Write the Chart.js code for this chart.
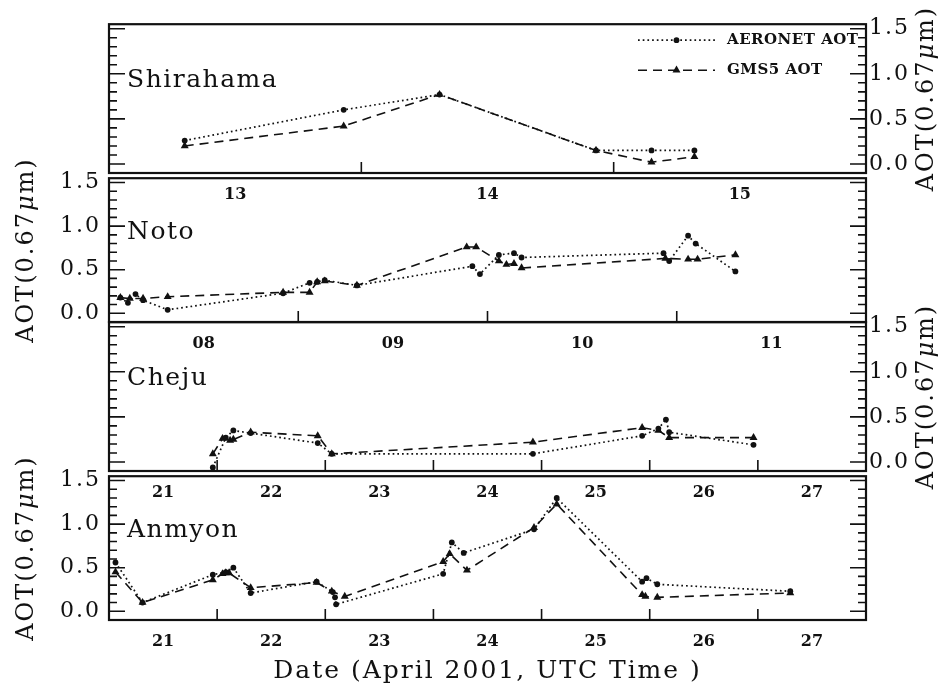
<!DOCTYPE html>
<html>
<head>
<meta charset="utf-8">
<script src="https://cdn.jsdelivr.net/npm/chart.js@4"></script>
<style>
  html, body { margin: 0; padding: 0; background: #fff; }
  #wrap { position: relative; width: 951px; height: 698px; overflow: hidden; }
  #wrap canvas { position: absolute; left: 0; }
</style>
</head>
<body>
<div id="wrap">
  <canvas id="shirahama" width="951" height="209" style="top:8px"></canvas>
  <canvas id="noto" width="951" height="209" style="top:157px"></canvas>
  <canvas id="cheju" width="951" height="209" style="top:306px"></canvas>
  <canvas id="anmyon" width="951" height="235" style="top:455px"></canvas>
</div>
<script>
// names and axis labels
const seriesNames = ['AERONET AOT', 'GMS5 AOT'];
const yTitle = 'AOT(0.67μm)';
const xTitle = 'Date (April 2001, UTC Time )';
const yTicks = [0.0, 0.5, 1.0, 1.5];

// Shirahama, 13-15 April (time = day of month + fraction, UTC)
const shirahamaDays = ['13', '14', '15'];
const shirahamaAeronetTime = [13.30, 13.93, 14.31, 14.93, 15.15, 15.32];
const shirahamaAeronetAot  = [0.26, 0.60, 0.77, 0.15, 0.15, 0.15];
const shirahamaGmsTime = [13.30, 13.93, 14.31, 14.93, 15.15, 15.32];
const shirahamaGmsAot  = [0.20, 0.42, 0.77, 0.15, 0.02, 0.08];

// Noto, 08-11 April
const notoDays = ['08', '09', '10', '11'];
const notoAeronetTime = [8.06, 8.10, 8.14, 8.18, 8.31, 8.92, 9.06, 9.10, 9.14, 9.31,
                         9.92, 9.96, 10.06, 10.14, 10.18, 10.93, 10.96, 11.06, 11.10, 11.31];
const notoAeronetAot  = [0.18, 0.12, 0.22, 0.15, 0.04, 0.23, 0.35, 0.36, 0.38, 0.32,
                         0.54, 0.45, 0.67, 0.69, 0.64, 0.69, 0.60, 0.89, 0.80, 0.48];
const notoGmsTime = [8.06, 8.11, 8.18, 8.31, 8.92, 9.06, 9.10, 9.14, 9.31, 9.89,
                     9.94, 10.06, 10.10, 10.14, 10.18, 10.94, 11.06, 11.11, 11.31];
const notoGmsAot  = [0.18, 0.17, 0.17, 0.19, 0.24, 0.24, 0.36, 0.37, 0.32, 0.76,
                     0.76, 0.60, 0.56, 0.57, 0.52, 0.63, 0.62, 0.62, 0.67];

// Cheju, 21-27 April
const chejuDays = ['21', '22', '23', '24', '25', '26', '27'];
const chejuAeronetTime = [21.96, 22.08, 22.15, 22.31, 22.93, 23.06, 24.92, 25.93, 26.08, 26.15, 26.18, 26.96];
const chejuAeronetAot  = [-0.06, 0.27, 0.35, 0.32, 0.21, 0.09, 0.09, 0.29, 0.37, 0.47, 0.33, 0.19];
const chejuGmsTime = [21.96, 22.05, 22.12, 22.15, 22.31, 22.93, 23.06, 24.92, 25.93, 26.08, 26.18, 26.96];
const chejuGmsAot  = [0.09, 0.26, 0.24, 0.25, 0.33, 0.29, 0.09, 0.22, 0.38, 0.35, 0.27, 0.27];

// Anmyon, 21-27 April
const anmyonDays = ['21', '22', '23', '24', '25', '26', '27'];
const anmyonAeronetTime = [21.06, 21.31, 21.96, 22.08, 22.15, 22.31, 22.92, 23.07, 23.09, 23.10,
                           24.09, 24.17, 24.28, 24.93, 25.14, 25.93, 25.97, 26.07, 27.30];
const anmyonAeronetAot  = [0.56, 0.10, 0.42, 0.45, 0.50, 0.21, 0.34, 0.22, 0.16, 0.08,
                           0.43, 0.79, 0.67, 0.94, 1.30, 0.34, 0.38, 0.31, 0.23];
const anmyonGmsTime = [21.06, 21.31, 21.96, 22.05, 22.08, 22.11, 22.31, 22.92, 23.06, 23.18,
                       24.09, 24.15, 24.31, 24.93, 25.14, 25.93, 25.96, 26.07, 27.30];
const anmyonGmsAot  = [0.45, 0.10, 0.36, 0.43, 0.44, 0.44, 0.27, 0.33, 0.23, 0.17,
                       0.57, 0.66, 0.47, 0.96, 1.23, 0.19, 0.17, 0.16, 0.21];

const ink = '#111';
Chart.defaults.font.family = '"DejaVu Serif", serif';
Chart.defaults.color = ink;

function seriesPoints(times, values) {
  return times.map((t, i) => ({ x: t, y: values[i] }));
}

function aeronetDataset(times, values) {
  return {
    label: seriesNames[0],
    data: seriesPoints(times, values),
    borderColor: ink, backgroundColor: ink,
    borderWidth: 1.7, borderDash: [1.7, 3],
    pointStyle: 'circle', pointRadius: 2.9, pointBorderWidth: 0,
    pointBackgroundColor: ink, tension: 0, fill: false
  };
}

function gmsDataset(times, values) {
  return {
    label: seriesNames[1],
    data: seriesPoints(times, values),
    borderColor: ink, backgroundColor: ink,
    borderWidth: 1.6, borderDash: [9, 6],
    pointStyle: 'triangle', pointRadius: 4.6, pointBorderWidth: 0,
    pointBackgroundColor: ink, tension: 0, fill: false
  };
}

// rotated y title, bottom to top, with italic mu
function drawAotTitle(ctx, cx, cy) {
  const [pre, post] = yTitle.split('μ');
  const normal = '24px "DejaVu Serif"';
  const italic = 'italic 24px "DejaVu Serif"';
  ctx.save();
  ctx.translate(cx, cy);
  ctx.rotate(-Math.PI / 2);
  ctx.fillStyle = ink;
  ctx.textAlign = 'left';
  ctx.textBaseline = 'middle';
  ctx.letterSpacing = '2px';
  ctx.font = normal;
  const w1 = ctx.measureText(pre).width;
  const w3 = ctx.measureText(post).width;
  ctx.font = italic;
  const w2 = ctx.measureText('μ').width;
  let px = -(w1 + w2 + w3) / 2;
  ctx.font = normal; ctx.fillText(pre, px, 0); px += w1;
  ctx.font = italic; ctx.fillText('μ', px, 0); px += w2;
  ctx.font = normal; ctx.fillText(post, px, 0);
  ctx.restore();
}

function drawLegend(chart) {
  const { ctx, chartArea: a } = chart;
  chart.data.datasets.forEach((ds, i) => {
    const ly = a.top + 16 + i * 30;
    const x0 = a.right - 228, x1 = a.right - 151;
    ctx.save();
    ctx.strokeStyle = ink;
    ctx.lineWidth = ds.borderWidth;
    ctx.setLineDash(ds.borderDash);
    ctx.beginPath();
    ctx.moveTo(x0, ly);
    ctx.lineTo(x1, ly);
    ctx.stroke();
    ctx.setLineDash([]);
    ctx.fillStyle = ink;
    if (Chart.helpers && Chart.helpers.drawPoint) {
      Chart.helpers.drawPoint(ctx, { pointStyle: ds.pointStyle, radius: ds.pointRadius, rotation: 0, borderWidth: 0 }, (x0 + x1) / 2, ly);
    } else {
      ctx.beginPath();
      ctx.arc((x0 + x1) / 2, ly, ds.pointRadius, 0, Math.PI * 2);
      ctx.fill();
    }
    ctx.font = 'bold 15px "DejaVu Serif"';
    ctx.letterSpacing = '0.5px';
    ctx.textAlign = 'left';
    ctx.textBaseline = 'middle';
    ctx.fillText(ds.label, a.right - 139, ly);
    ctx.restore();
  });
}

// frame, inward tick marks, station name, y title, legend
const panelPlugin = {
  id: 'panel',
  beforeDraw(chart) { chart.ctx.letterSpacing = '2px'; },
  beforeDatasetsDraw(chart) { chart.ctx.letterSpacing = '0px'; },
  afterDatasetsDraw(chart, args, opts) {
    const { ctx, chartArea: a } = chart;
    const x = chart.scales.x, y = chart.scales.y;
    ctx.save();
    ctx.strokeStyle = ink;
    ctx.lineWidth = 2.2;
    ctx.strokeRect(a.left, a.top, a.right - a.left, a.bottom - a.top);
    ctx.lineWidth = 1.6;
    ctx.beginPath();
    for (let i = 0; i <= 15; i++) {
      const py = y.getPixelForValue(i / 10);
      const len = i % 5 === 0 ? 16 : 8;
      ctx.moveTo(a.left, py); ctx.lineTo(a.left + len, py);
      ctx.moveTo(a.right, py); ctx.lineTo(a.right - len, py);
    }
    for (let d = x.min + 1; d < x.max; d++) {
      const px = x.getPixelForValue(d);
      ctx.moveTo(px, a.bottom); ctx.lineTo(px, a.bottom - 11);
    }
    ctx.stroke();

    ctx.fillStyle = ink;
    ctx.font = '25px "DejaVu Serif"';
    ctx.letterSpacing = '1.5px';
    ctx.textAlign = 'left';
    ctx.textBaseline = 'alphabetic';
    ctx.fillText(opts.station, a.left + 18, y.getPixelForValue(0.85));
    ctx.restore();

    drawAotTitle(ctx, opts.labelSide === 'left' ? 27 : 927, (a.top + a.bottom) / 2);
    if (opts.legend) drawLegend(chart);
  }
};

function makePanel(id, opt) {
  const first = Number(opt.days[0]);
  const labelsLeft = opt.labelSide === 'left';
  const xHeight = opt.showXTitle ? 66 : 40;
  const yCommon = {
    min: -0.1, max: 1.55, bounds: 'data',
    grid: { display: false, drawTicks: false },
    border: { display: false },
    afterBuildTicks: s => { s.ticks = yTicks.map(v => ({ value: v })); }
  };
  return new Chart(document.getElementById(id), {
    type: 'line',
    data: { datasets: [aeronetDataset(...opt.aeronet), gmsDataset(...opt.gms)] },
    options: {
      responsive: false, animation: false, devicePixelRatio: 1,
      layout: { padding: { top: 16, bottom: 4, left: 0, right: 0 } },
      plugins: {
        legend: { display: false },
        tooltip: { enabled: false },
        panel: { station: opt.station, labelSide: opt.labelSide, legend: opt.legend }
      },
      scales: {
        x: {
          type: 'linear', position: 'bottom', bounds: 'data',
          min: first, max: first + opt.days.length,
          grid: { display: false, drawTicks: false },
          border: { display: false },
          afterBuildTicks: s => { s.ticks = opt.days.map((d, i) => ({ value: first + i + 0.5 })); },
          afterFit: s => { s.height = xHeight; },
          ticks: {
            autoSkip: false, maxRotation: 0, minRotation: 0, padding: 12, z: 1,
            font: { size: 16, weight: 'bold' },
            callback: (v, i) => opt.days[i]
          },
          title: { display: !!opt.showXTitle, text: xTitle, font: { size: 25 }, padding: 0 }
        },
        y: Object.assign({}, yCommon, {
          position: 'left',
          afterFit: s => { s.width = 109; },
          ticks: { display: labelsLeft, padding: 8, z: -1, font: { size: 22 }, callback: v => v.toFixed(1) }
        }),
        y2: Object.assign({}, yCommon, {
          position: 'right',
          afterFit: s => { s.width = 85; },
          ticks: { display: !labelsLeft, padding: 3, z: -1, font: { size: 22 }, callback: v => v.toFixed(1) }
        })
      }
    },
    plugins: [panelPlugin]
  });
}

makePanel('shirahama', {
  station: 'Shirahama', days: shirahamaDays, labelSide: 'right', legend: true,
  aeronet: [shirahamaAeronetTime, shirahamaAeronetAot], gms: [shirahamaGmsTime, shirahamaGmsAot]
});
makePanel('noto', {
  station: 'Noto', days: notoDays, labelSide: 'left',
  aeronet: [notoAeronetTime, notoAeronetAot], gms: [notoGmsTime, notoGmsAot]
});
makePanel('cheju', {
  station: 'Cheju', days: chejuDays, labelSide: 'right',
  aeronet: [chejuAeronetTime, chejuAeronetAot], gms: [chejuGmsTime, chejuGmsAot]
});
makePanel('anmyon', {
  station: 'Anmyon', days: anmyonDays, labelSide: 'left', showXTitle: true,
  aeronet: [anmyonAeronetTime, anmyonAeronetAot], gms: [anmyonGmsTime, anmyonGmsAot]
});
</script>
</body>
</html>
